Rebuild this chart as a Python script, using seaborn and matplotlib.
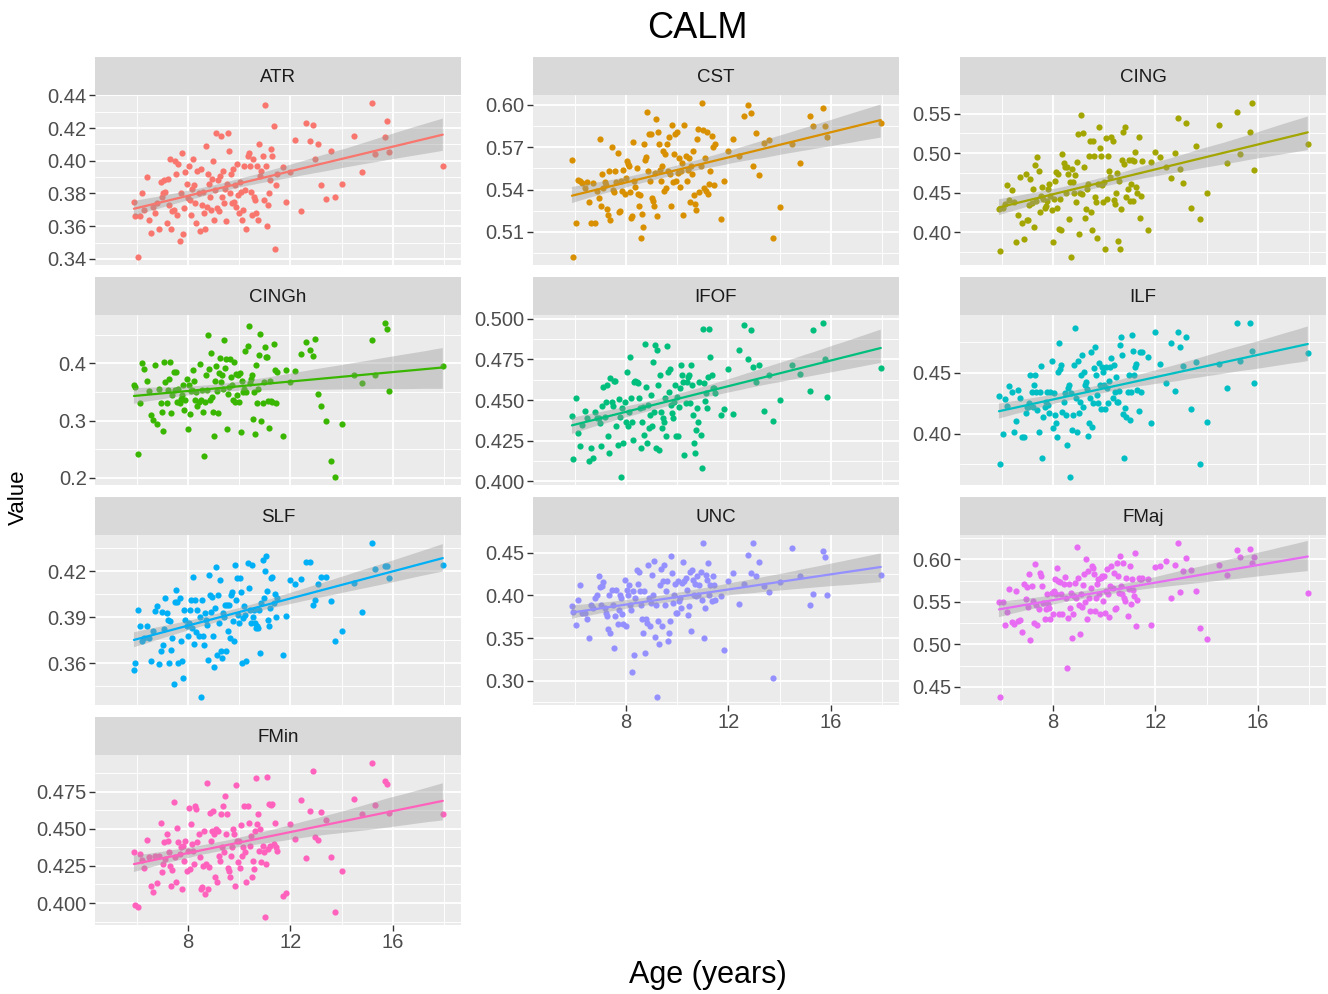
import numpy as np
import pandas as pd
import matplotlib
matplotlib.use("Agg")
import matplotlib.pyplot as plt
import seaborn as sns
from matplotlib.collections import PolyCollection
from matplotlib.ticker import FixedLocator, FormatStrFormatter

# ages of the participants (shared across tracts)
ages = [5.9, 5.95, 6.05, 6.12, 6.2, 6.3, 6.4, 6.48,
        6.58, 6.65, 6.72, 6.8, 6.88, 6.95,
        7.0, 7.04, 7.09, 7.13, 7.18, 7.22, 7.27, 7.31, 7.36, 7.4, 7.45, 7.5, 7.54, 7.59, 7.63, 7.68,
        7.72, 7.77, 7.81, 7.86, 7.9, 7.95,
        8.0, 8.04, 8.08, 8.12, 8.17, 8.21, 8.25, 8.29, 8.33, 8.37, 8.42, 8.46, 8.5, 8.54, 8.58, 8.62,
        8.67, 8.71, 8.75, 8.79, 8.83, 8.87, 8.92, 8.96,
        9.0, 9.04, 9.08, 9.11, 9.15, 9.19, 9.23, 9.27, 9.3, 9.34, 9.38, 9.42, 9.46, 9.5, 9.54, 9.58,
        9.62, 9.65, 9.69, 9.73, 9.77, 9.81, 9.85, 9.88, 9.92, 9.96,
        10.0, 10.04, 10.08, 10.12, 10.17, 10.21, 10.25, 10.29, 10.33, 10.37, 10.42, 10.46, 10.5,
        10.54, 10.58, 10.62, 10.67, 10.71, 10.75, 10.79, 10.83, 10.87, 10.92, 10.96,
        11.0, 11.04, 11.08, 11.12, 11.16, 11.2, 11.25, 11.3, 11.35, 11.4, 11.45, 11.5,
        11.7, 11.85, 12.0, 12.17, 12.4, 12.6, 12.75, 12.9, 12.97, 13.1, 13.2, 13.4, 13.6, 13.75,
        14.0, 14.5, 14.8, 15.2, 15.3, 15.7, 15.78, 15.85, 17.95]

atr = [0.375, 0.366, 0.341, 0.366, 0.380, 0.370, 0.390, 0.364,
       0.356, 0.372, 0.368, 0.374, 0.358, 0.387,
       0.378, 0.380, 0.388, 0.381, 0.362, 0.389, 0.373, 0.401, 0.358, 0.369, 0.370, 0.400, 0.392,
       0.367, 0.398, 0.351, 0.380, 0.405, 0.355, 0.371, 0.393, 0.386,
       0.377, 0.397, 0.376, 0.367, 0.383, 0.401, 0.385, 0.374, 0.362, 0.394, 0.380, 0.357, 0.395,
       0.373, 0.381, 0.368, 0.358, 0.409, 0.372, 0.392, 0.386, 0.378, 0.370, 0.389,
       0.400, 0.364, 0.382, 0.417, 0.371, 0.388, 0.369, 0.391, 0.415, 0.378, 0.394, 0.374, 0.383,
       0.363, 0.386, 0.417, 0.406, 0.380, 0.392, 0.374, 0.395, 0.375, 0.385, 0.372, 0.398, 0.379,
       0.368, 0.387, 0.381, 0.364, 0.370, 0.397, 0.382, 0.358, 0.403, 0.405, 0.397, 0.381, 0.367,
       0.401, 0.378, 0.376, 0.368, 0.397, 0.364, 0.410, 0.391, 0.394, 0.403, 0.376,
       0.434, 0.397, 0.360, 0.373, 0.380, 0.388, 0.407, 0.403, 0.4215, 0.346, 0.385, 0.392,
       0.3964, 0.375, 0.393, 0.413, 0.369, 0.4228, 0.4124, 0.422, 0.401, 0.410, 0.385, 0.3765,
       0.4058, 0.378, 0.3855, 0.415, 0.3933, 0.4355, 0.404, 0.4146, 0.4242, 0.4055, 0.397]

cst = [0.561, 0.492, 0.516, 0.547, 0.546, 0.5445, 0.541, 0.545,
       0.5315, 0.516, 0.5445, 0.516, 0.539, 0.534,
       0.576, 0.528, 0.551, 0.541, 0.545, 0.543, 0.5265, 0.522, 0.553, 0.5185, 0.570, 0.540, 0.538,
       0.553, 0.545, 0.566, 0.524, 0.525, 0.546, 0.539, 0.554, 0.537,
       0.548, 0.560, 0.558, 0.557, 0.538, 0.520, 0.521, 0.5735, 0.546, 0.542, 0.555, 0.537, 0.528,
       0.536, 0.5055, 0.523, 0.5135, 0.572, 0.561, 0.563, 0.595, 0.553, 0.579, 0.546,
       0.579, 0.534, 0.532, 0.528, 0.552, 0.590, 0.521, 0.581, 0.572, 0.554, 0.546, 0.557, 0.567,
       0.539, 0.565, 0.541, 0.572, 0.553, 0.577, 0.551, 0.528, 0.586, 0.545, 0.565, 0.579, 0.546,
       0.581, 0.552, 0.562, 0.542, 0.553, 0.559, 0.522, 0.586, 0.564, 0.546, 0.554, 0.562, 0.5315,
       0.557, 0.551, 0.567, 0.536, 0.530, 0.5255, 0.576, 0.583, 0.538, 0.557, 0.6015,
       0.582, 0.541, 0.562, 0.539, 0.581, 0.537, 0.544, 0.553, 0.578, 0.570, 0.543, 0.572,
       0.519, 0.546, 0.567, 0.576, 0.564, 0.592, 0.600, 0.594, 0.557, 0.580, 0.550, 0.573,
       0.575, 0.5055, 0.5275, 0.572, 0.559, 0.592, 0.585, 0.598, 0.585, 0.577, 0.587]

cing = [0.429, 0.376, 0.430, 0.435, 0.460, 0.441, 0.453, 0.438,
        0.387, 0.421, 0.470, 0.412, 0.391, 0.473,
        0.4155, 0.415, 0.434, 0.467, 0.437, 0.455, 0.407, 0.485, 0.439, 0.495, 0.478, 0.425, 0.446,
        0.457, 0.442, 0.431, 0.433, 0.439, 0.455, 0.461, 0.446, 0.428,
        0.387, 0.442, 0.465, 0.476, 0.431, 0.473, 0.404, 0.442, 0.402, 0.499, 0.488, 0.482, 0.449,
        0.483, 0.474, 0.417, 0.463, 0.368, 0.480, 0.463, 0.449, 0.472, 0.438, 0.489,
        0.524, 0.397, 0.450, 0.549, 0.448, 0.526, 0.482, 0.418, 0.429, 0.454, 0.461, 0.497, 0.516,
        0.426, 0.402, 0.516, 0.497, 0.444, 0.438, 0.393, 0.461, 0.533, 0.506, 0.497, 0.460, 0.438,
        0.463, 0.379, 0.519, 0.442, 0.497, 0.478, 0.470, 0.520, 0.515, 0.441, 0.436, 0.449, 0.475,
        0.389, 0.465, 0.378, 0.429, 0.491, 0.527, 0.486, 0.533, 0.444, 0.454, 0.491,
        0.439, 0.461, 0.491, 0.440, 0.490, 0.501, 0.457, 0.449, 0.520, 0.418, 0.446, 0.490,
        0.402, 0.489, 0.501, 0.495, 0.482, 0.468, 0.500, 0.544, 0.480, 0.462, 0.538, 0.430,
        0.509, 0.416, 0.449, 0.536, 0.487, 0.552, 0.499, 0.527, 0.564, 0.479, 0.512]

cingh = [0.362, 0.358, 0.241, 0.331, 0.400, 0.391, 0.369, 0.352,
         0.310, 0.301, 0.398, 0.294, 0.356, 0.331,
         0.315, 0.281, 0.402, 0.367, 0.330, 0.353, 0.373, 0.403, 0.313, 0.344, 0.385, 0.353, 0.385,
         0.333, 0.356, 0.330, 0.338, 0.344, 0.362, 0.318, 0.336, 0.373,
         0.286, 0.362, 0.312, 0.352, 0.353, 0.388, 0.370, 0.336, 0.350, 0.325, 0.333, 0.399, 0.336,
         0.353, 0.315, 0.238, 0.332, 0.379, 0.353, 0.450, 0.390, 0.336, 0.418, 0.342,
         0.315, 0.273, 0.370, 0.396, 0.352, 0.314, 0.384, 0.409, 0.367, 0.379, 0.356, 0.440, 0.392,
         0.407, 0.286, 0.347, 0.359, 0.408, 0.376, 0.362, 0.336, 0.403, 0.333, 0.382, 0.344, 0.379,
         0.333, 0.383, 0.280, 0.370, 0.350, 0.356, 0.421, 0.350, 0.430, 0.466, 0.365, 0.373, 0.379,
         0.302, 0.350, 0.276, 0.397, 0.330, 0.356, 0.414, 0.452, 0.300, 0.330, 0.367,
         0.428, 0.411, 0.411, 0.335, 0.287, 0.369, 0.335, 0.332, 0.433, 0.388, 0.330, 0.385,
         0.273, 0.388, 0.367, 0.386, 0.417, 0.437, 0.424, 0.412, 0.442, 0.347, 0.326, 0.299,
         0.230, 0.201, 0.294, 0.379, 0.366, 0.441, 0.380, 0.471, 0.460, 0.351, 0.395]

ifof = [0.440, 0.4137, 0.451, 0.4296, 0.4214, 0.4347, 0.4435, 0.4388,
        0.4127, 0.4204, 0.4143, 0.4429, 0.4392, 0.4388,
        0.4357, 0.4214, 0.4465, 0.458, 0.4398, 0.4486, 0.459, 0.428, 0.4173, 0.4633, 0.4486,
        0.4465, 0.4614, 0.4616, 0.4337, 0.4224, 0.4508, 0.4398, 0.4024, 0.4449, 0.4235, 0.4490,
        0.4367, 0.4673, 0.4337, 0.4429, 0.4765, 0.4510, 0.4367, 0.4255, 0.4608, 0.4616, 0.4612,
        0.4602, 0.4510, 0.4449, 0.4204, 0.4367, 0.4459, 0.4286, 0.4845, 0.4582, 0.4235, 0.4469,
        0.4327, 0.4408,
        0.4531, 0.4337, 0.4735, 0.4429, 0.4837, 0.4204, 0.481, 0.4592, 0.4194, 0.4653, 0.4429,
        0.4327, 0.4388, 0.4367, 0.4510, 0.4276, 0.4833, 0.4673, 0.4551, 0.4694, 0.4469, 0.4418,
        0.4388, 0.4490, 0.4592, 0.4276,
        0.4520, 0.4276, 0.4459, 0.4571, 0.4714, 0.4653, 0.4612, 0.4163, 0.4480, 0.4612, 0.4643,
        0.4653, 0.4480, 0.4714, 0.4592, 0.4408, 0.4235, 0.4171, 0.4316, 0.4449, 0.4367, 0.4612,
        0.4286, 0.4082,
        0.4939, 0.4602, 0.4494, 0.4541, 0.4449, 0.4643, 0.4935, 0.4765, 0.4653, 0.4576, 0.4571, 0.4541,
        0.4408, 0.4443, 0.469, 0.4414, 0.4806, 0.4959, 0.4755, 0.4933, 0.4704, 0.4612, 0.4714,
        0.4433, 0.4657, 0.4371, 0.4498, 0.4714, 0.4663, 0.4555, 0.4933, 0.4976, 0.4755, 0.452, 0.470]

ilf = [0.4311, 0.3751, 0.400, 0.4284, 0.4227, 0.4393, 0.4339, 0.4016,
       0.4107, 0.4358, 0.4290, 0.3975, 0.397, 0.4167,
       0.4221, 0.4221, 0.4249, 0.4481, 0.4344, 0.4221, 0.4399, 0.4481, 0.4344, 0.4194, 0.4016,
       0.4344, 0.4557, 0.3803, 0.4139, 0.4221, 0.4257, 0.4344, 0.4235, 0.4167, 0.4344, 0.4596,
       0.4044, 0.4331, 0.4153, 0.4085, 0.3975, 0.4508, 0.474, 0.4530, 0.4563, 0.418, 0.4262,
       0.4331, 0.4153, 0.3907, 0.4372, 0.4399, 0.3642, 0.4331, 0.403, 0.4153, 0.4563, 0.4863,
       0.4290, 0.4016,
       0.4596, 0.4167, 0.4262, 0.4481, 0.4645, 0.4221, 0.4508, 0.4399, 0.4426, 0.4366, 0.3981,
       0.4085, 0.4290, 0.4672, 0.4057, 0.4249, 0.4536, 0.4713, 0.4481, 0.4317, 0.4249, 0.4577,
       0.4399, 0.4202, 0.4549, 0.4508,
       0.4399, 0.4199, 0.4549, 0.4372, 0.4249, 0.4432, 0.4549, 0.4623, 0.4290, 0.4563, 0.4344,
       0.4467, 0.4262, 0.4262, 0.4350, 0.4727, 0.4795, 0.4645, 0.4158, 0.3803, 0.4213, 0.4139,
       0.4344, 0.4481,
       0.4112, 0.4344, 0.4809, 0.4678, 0.4481, 0.4549, 0.4568, 0.4358, 0.4186, 0.4672, 0.4344, 0.4667,
       0.4631, 0.4085, 0.4831, 0.4568, 0.4413, 0.474, 0.4350, 0.4831, 0.4713, 0.4557, 0.4795,
       0.4199, 0.459, 0.3749, 0.4093, 0.4568, 0.4377, 0.4904, 0.4596, 0.491, 0.468, 0.4413, 0.4664]

slf = [0.3557, 0.360, 0.3948, 0.3839, 0.3741, 0.3763, 0.3839, 0.3763,
       0.3611, 0.3807, 0.3943, 0.3970, 0.3593, 0.368,
       0.3937, 0.3720, 0.3822, 0.4024, 0.3926, 0.3883, 0.360, 0.3872, 0.3683, 0.3763, 0.3465,
       0.4002, 0.4078, 0.4002, 0.360, 0.4024, 0.3741, 0.3611, 0.3502, 0.3948, 0.3883, 0.3839,
       0.3774, 0.3861, 0.3948, 0.4013, 0.3828, 0.4165, 0.3724, 0.4013, 0.3806, 0.3948, 0.3774,
       0.3904, 0.3376, 0.4013, 0.3774, 0.372, 0.3926, 0.3883, 0.3850, 0.3622, 0.4176, 0.4046,
       0.3937, 0.4035,
       0.3780, 0.3574, 0.3958, 0.423, 0.3654, 0.4046, 0.3861, 0.4143, 0.3676, 0.3633, 0.3926,
       0.3904, 0.3980, 0.3676, 0.3980, 0.3807, 0.3980, 0.3763, 0.4046, 0.4067, 0.3872, 0.3741,
       0.4241, 0.4013, 0.4154, 0.3915,
       0.3861, 0.4154, 0.4067, 0.360, 0.3893, 0.3970, 0.3915, 0.3611, 0.4257, 0.4089, 0.3948,
       0.3861, 0.4241, 0.3904, 0.3948, 0.3861, 0.3828, 0.3839, 0.3828, 0.3948, 0.3665, 0.3991,
       0.4272, 0.4024,
       0.4202, 0.4302, 0.4072, 0.3883, 0.3839, 0.3958, 0.4154, 0.4165, 0.3991, 0.4052, 0.3898, 0.4024,
       0.3654, 0.3905, 0.4143, 0.4120, 0.4148, 0.4263, 0.4263, 0.398, 0.4013, 0.4115, 0.4165,
       0.4165, 0.4007, 0.3741, 0.3807, 0.4122, 0.3937, 0.4387, 0.4215, 0.4237, 0.4235, 0.4159, 0.4241]

unc = [0.388, 0.3806, 0.3647, 0.395, 0.4116, 0.3794, 0.3794, 0.3717,
       0.3504, 0.3891, 0.3853, 0.3969, 0.4008, 0.4229,
       0.4093, 0.3891, 0.4109, 0.4155, 0.3853, 0.3795, 0.3756, 0.3601, 0.4008, 0.3562, 0.4066,
       0.3891, 0.338, 0.3756, 0.4066, 0.3659, 0.3833, 0.4008, 0.3969, 0.3783, 0.3659, 0.4182,
       0.364, 0.4062, 0.4008, 0.4116, 0.3891, 0.3833, 0.3097, 0.4047, 0.3302, 0.3969, 0.4299,
       0.4132, 0.4279, 0.4054, 0.3891, 0.3717, 0.3562, 0.4054, 0.333, 0.3717, 0.3678, 0.4357,
       0.3969, 0.364,
       0.3911, 0.424, 0.4008, 0.4403, 0.3512, 0.3891, 0.2806, 0.3705, 0.3434, 0.4116, 0.4310,
       0.364, 0.4163, 0.4357, 0.3891, 0.4047, 0.4163, 0.3465, 0.3562, 0.3705, 0.4461, 0.4260,
       0.3911, 0.4008, 0.4132, 0.3794,
       0.3794, 0.4163, 0.3930, 0.3969, 0.3853, 0.4144, 0.4395, 0.4163, 0.4201, 0.4066, 0.3764,
       0.3872, 0.4279, 0.3581, 0.4299, 0.4182, 0.4008, 0.4132, 0.3989, 0.4221, 0.4000, 0.4124,
       0.4279, 0.3950,
       0.4616, 0.3496, 0.3853, 0.4240, 0.4182, 0.4376, 0.4008, 0.4124, 0.3938, 0.4221, 0.4124, 0.3950,
       0.3988, 0.336, 0.4163, 0.4264, 0.3903, 0.4132, 0.4473, 0.4267, 0.4609, 0.4229, 0.4395,
       0.4105, 0.4039, 0.3027, 0.4151, 0.4550, 0.4229, 0.3884, 0.4016, 0.4523, 0.4446, 0.4008, 0.424]

fmaj = [0.5501, 0.4378, 0.5497, 0.5234, 0.5383, 0.5654, 0.5266, 0.5242,
        0.5627, 0.5281, 0.5285, 0.5148, 0.5713, 0.5529,
        0.5670, 0.5438, 0.5823, 0.5046, 0.5686, 0.5509, 0.5254, 0.5941, 0.5462, 0.5226, 0.5411,
        0.5839, 0.5804, 0.5686, 0.5489, 0.5293, 0.5411, 0.5595, 0.5478, 0.5430, 0.5293, 0.5607,
        0.5352, 0.5627, 0.5764, 0.5595, 0.5894, 0.5745, 0.5360, 0.5737, 0.5587, 0.5352, 0.5713,
        0.5792, 0.5548, 0.4723, 0.5313, 0.5705, 0.5423, 0.5607, 0.5077, 0.5352, 0.5568, 0.5725,
        0.5540, 0.6145,
        0.5784, 0.5462, 0.5124, 0.5595, 0.5438, 0.5694, 0.5823, 0.5501, 0.6000, 0.5293, 0.5862,
        0.5548, 0.5391, 0.5666, 0.5921, 0.5902, 0.5823, 0.5391, 0.5548, 0.5705, 0.5764, 0.5587,
        0.5352, 0.5776, 0.5804, 0.5509,
        0.5804, 0.5372, 0.5627, 0.5882, 0.5587, 0.532, 0.5686, 0.5921, 0.5666, 0.5843, 0.5411,
        0.5430, 0.5960, 0.5804, 0.5607, 0.6039, 0.5686, 0.5587, 0.5960, 0.5548, 0.5509, 0.5784,
        0.5332, 0.5647,
        0.5921, 0.5470, 0.5764, 0.5635, 0.5568, 0.6079, 0.5214, 0.5517, 0.5784, 0.5764, 0.5764, 0.5776,
        0.577, 0.5226, 0.591, 0.5926, 0.5984, 0.5548, 0.5937, 0.6196, 0.5611, 0.5863, 0.6012,
        0.5878, 0.5631, 0.5195, 0.5061, 0.5929, 0.5811, 0.6106, 0.6027, 0.6118, 0.596, 0.6027, 0.5603]

fmin = [0.4347, 0.3989, 0.3971, 0.4329, 0.4291, 0.4235, 0.4423, 0.4311,
        0.4114, 0.4072, 0.4318, 0.4132, 0.4314, 0.4537,
        0.4206, 0.4262, 0.4408, 0.4296, 0.4464, 0.4419, 0.4341, 0.4251, 0.4117, 0.4222, 0.4683,
        0.4307, 0.4139, 0.4508, 0.4408, 0.4329, 0.4374, 0.4094, 0.4385, 0.4285, 0.4419, 0.4217,
        0.4352, 0.4638, 0.4229, 0.4531, 0.4396, 0.4352, 0.4262, 0.4654, 0.4632, 0.4408, 0.4464,
        0.4307, 0.4094, 0.4106, 0.4251, 0.4486, 0.4061, 0.4262, 0.481, 0.4094, 0.4240, 0.4609,
        0.4419, 0.4486,
        0.4620, 0.4464, 0.4177, 0.4497, 0.4139, 0.4486, 0.4318, 0.4285, 0.4598, 0.4374, 0.4654,
        0.4341, 0.4721, 0.4464, 0.4598, 0.4235, 0.4218, 0.4173, 0.4318, 0.4374, 0.4497, 0.4464,
        0.4117, 0.4795, 0.4419, 0.4273,
        0.4419, 0.4235, 0.4526, 0.4318, 0.4374, 0.4654, 0.4347, 0.414, 0.4654, 0.4542, 0.4385,
        0.4450, 0.4172, 0.4284, 0.4229, 0.4486, 0.4844, 0.4531, 0.4598, 0.4352, 0.4497, 0.4273,
        0.4385, 0.4341,
        0.3904, 0.4266, 0.4851, 0.4363, 0.4665, 0.4385, 0.4660, 0.4665, 0.4396, 0.4542, 0.4374, 0.4352,
        0.405, 0.4065, 0.4531, 0.443, 0.4692, 0.4302, 0.4620, 0.4889, 0.4446, 0.4423, 0.4610,
        0.4558, 0.4311, 0.3942, 0.4217, 0.4703, 0.4598, 0.4945, 0.4660, 0.4822, 0.480, 0.4607, 0.4598]

tracts = ["ATR", "CST", "CING", "CINGh", "IFOF", "ILF", "SLF", "UNC", "FMaj", "FMin"]
values = [atr, cst, cing, cingh, ifof, ilf, slf, unc, fmaj, fmin]
y_ticks = [[0.34, 0.36, 0.38, 0.40, 0.42, 0.44],
           [0.51, 0.54, 0.57, 0.60],
           [0.40, 0.45, 0.50, 0.55],
           [0.2, 0.3, 0.4],
           [0.400, 0.425, 0.450, 0.475, 0.500],
           [0.40, 0.45],
           [0.36, 0.39, 0.42],
           [0.30, 0.35, 0.40, 0.45],
           [0.45, 0.50, 0.55, 0.60],
           [0.400, 0.425, 0.450, 0.475]]
y_fmt = ["%.2f", "%.2f", "%.2f", "%.1f", "%.3f", "%.2f", "%.2f", "%.2f", "%.2f", "%.3f"]
x_ticks = [8, 12, 16]

colors = ["#F8766D", "#D89000", "#A3A500", "#39B600", "#00BF7D",
          "#00BFC4", "#00B0F6", "#9590FF", "#E76BF3", "#FF62BC"]

df = pd.DataFrame({
    "age": np.tile(ages, len(tracts)),
    "value": np.concatenate(values),
    "tract": np.repeat(tracts, len(ages)),
})

sns.set_theme(style="darkgrid", rc={"axes.facecolor": "#EBEBEB", "grid.color": "white"})
plt.rcParams["font.family"] = ["Liberation Sans", "DejaVu Sans"]

W, H = 1328, 994
fig = plt.figure(figsize=(W / 100, H / 100), dpi=100)

col_left = [95, 533, 960]
row_top = [95, 315, 535, 755]
pw, ph, sh = 366, 170, 38
bottom_of_col = {0: 3, 1: 2, 2: 2}

for i, name in enumerate(tracts):
    r, c = divmod(i, 3)
    x0, y0 = col_left[c], row_top[r]
    ax = fig.add_axes([x0 / W, 1 - (y0 + ph) / H, pw / W, ph / H])
    sax = fig.add_axes([x0 / W, 1 - y0 / H, pw / W, sh / H])

    sub = df[df["tract"] == name]
    sns.regplot(data=sub, x="age", y="value", ax=ax, color=colors[i], ci=95,
                n_boot=1000, seed=0,
                scatter_kws=dict(s=20, linewidths=0, alpha=1),
                line_kws=dict(lw=1.6))
    for coll in ax.collections:
        if isinstance(coll, PolyCollection):
            coll.set_facecolor("#999999")
            coll.set_alpha(0.4)
            coll.set_edgecolor("none")

    lo, hi = sub["value"].min(), sub["value"].max()
    pad = (hi - lo) * 0.05
    ax.set_ylim(lo - pad, hi + pad)
    ax.set_xlim(4.38, 18.66)

    yt = y_ticks[i]
    step = yt[1] - yt[0]
    ax.yaxis.set_major_locator(FixedLocator(yt))
    ax.yaxis.set_minor_locator(FixedLocator([t - step / 2 for t in yt] + [yt[-1] + step / 2]))
    ax.yaxis.set_major_formatter(FormatStrFormatter(y_fmt[i]))
    ax.xaxis.set_major_locator(FixedLocator(x_ticks))
    ax.xaxis.set_minor_locator(FixedLocator([6, 10, 14, 18]))

    ax.grid(which="major", color="white", lw=1.3)
    ax.grid(which="minor", color="white", lw=0.65)
    ax.set_axisbelow(True)
    for s in ax.spines.values():
        s.set_visible(False)
    ax.set_xlabel("")
    ax.set_ylabel("")
    ax.tick_params(axis="y", which="major", left=True, length=4, width=1, color="#333333",
                   labelsize=14.5, labelcolor="#4D4D4D", pad=2)
    ax.tick_params(which="minor", length=0)
    if r == bottom_of_col[c]:
        ax.tick_params(axis="x", which="major", bottom=True, length=4, width=1, color="#333333",
                       labelsize=14.5, labelcolor="#4D4D4D", pad=2)
    else:
        ax.tick_params(axis="x", which="major", bottom=False, labelbottom=False)

    sax.set_facecolor("#D9D9D9")
    sax.set_xticks([])
    sax.set_yticks([])
    sax.grid(False)
    for s in sax.spines.values():
        s.set_visible(False)
    sax.text(0.5, 0.47, name, ha="center", va="center", fontsize=13.5, color="#1A1A1A",
             transform=sax.transAxes)

fig.text(697 / W, 1 - 28 / H, "CALM", ha="center", va="center", fontsize=26, color="black")
fig.text(708 / W, 1 - 975 / H, "Age (years)", ha="center", va="center", fontsize=22,
         color="black")
fig.text(18 / W, 1 - 497 / H, "Value", ha="center", va="center", fontsize=16,
         rotation=90, color="black")

fig.savefig("out.png", dpi=100, facecolor="white")
